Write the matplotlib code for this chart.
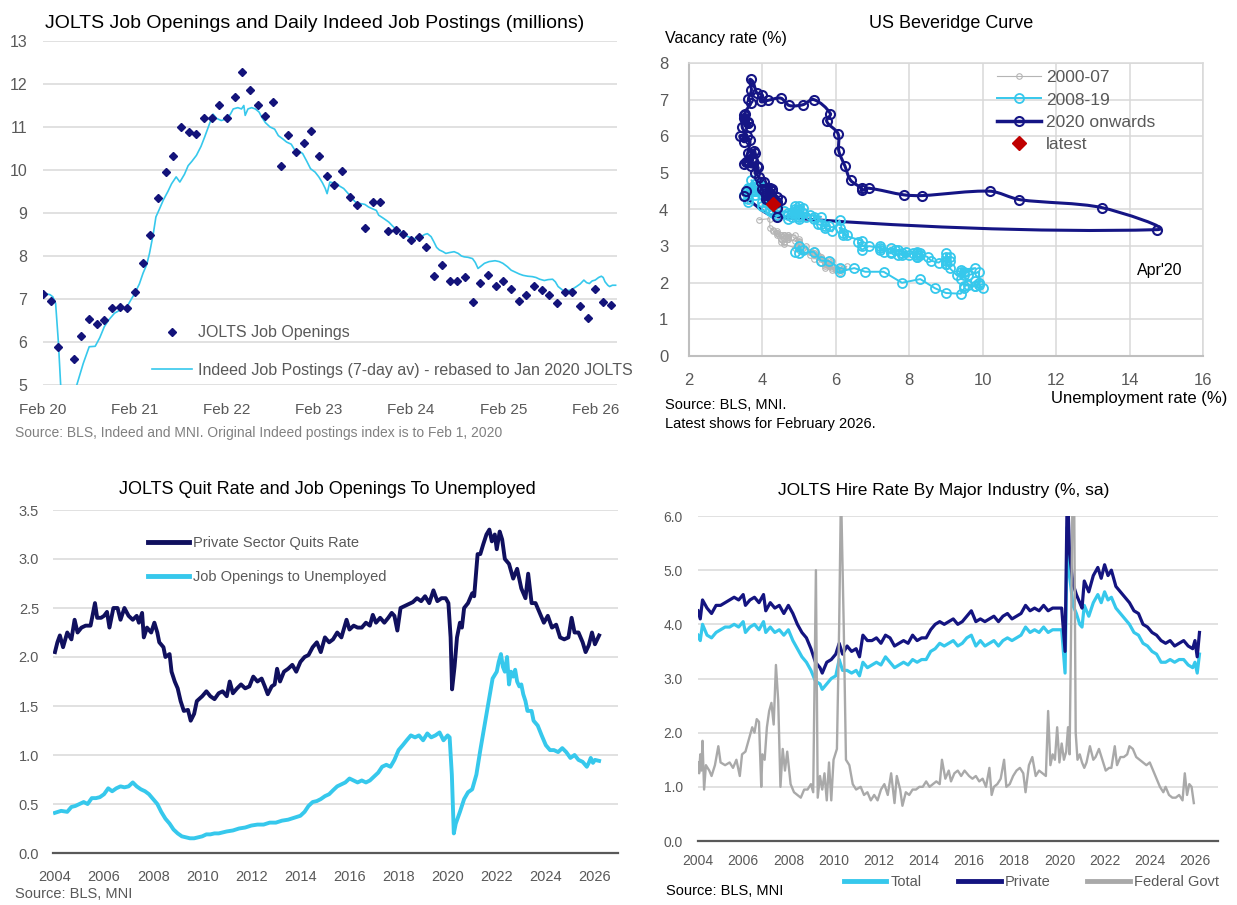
import numpy as np
import matplotlib
matplotlib.use('Agg')
import matplotlib.pyplot as plt
from matplotlib.path import Path
from matplotlib.patches import PathPatch
from matplotlib.lines import Line2D
from matplotlib.ticker import FormatStrFormatter

plt.rcParams['font.family'] = ['Liberation Sans', 'DejaVu Sans']

# ---------------- data ----------------
# JOLTS job openings (millions), monthly from Feb 2020
jolts_openings = [7.12, 6.95, 5.89, 4.6, 5.61, 6.13, 6.54, 6.42, 6.51, 6.80, 6.81, 6.78,
                  7.16, 7.84, 8.49, 9.34, 9.95, 10.32, 11.0, 10.88, 10.83, 11.22, 11.2, 11.52,
                  11.2, 11.69, 12.29, 11.85, 11.52, 11.26, 11.57, 10.09, 10.81, 10.43, 10.62, 10.9,
                  10.32, 9.85, 9.64, 9.97, 9.37, 9.18, 8.65, 9.25, 9.25, 8.58, 8.61, 8.52,
                  8.37, 8.45, 8.21, 7.53, 7.79, 7.43, 7.43, 7.52, 6.93, 7.37, 7.56, 7.3,
                  7.43, 7.23, 6.95, 7.09, 7.31, 7.21, 7.09, 6.91, 7.16, 7.16, 6.84, 6.56,
                  7.23, 6.93, 6.85]

# Indeed postings, rebased (year, millions)
indeed_postings = [
    (2020.083, 7.15), (2020.12, 7.12), (2020.16, 7.1), (2020.19, 7.05), (2020.22, 6.9), (2020.25, 6.0),
    (2020.275, 5.0), (2020.32, 4.55), (2020.37, 4.45), (2020.42, 4.75), (2020.45, 5.0), (2020.52, 5.5),
    (2020.585, 5.89), (2020.65, 5.9), (2020.7, 6.1), (2020.75, 6.36), (2020.8, 6.52), (2020.86, 6.67),
    (2020.95, 6.78), (2020.99, 6.8), (2021.03, 6.95), (2021.08, 7.13), (2021.13, 7.35), (2021.17, 7.6),
    (2021.21, 7.8), (2021.24, 8.06), (2021.28, 8.5), (2021.31, 8.91), (2021.35, 9.1), (2021.39, 9.3),
    (2021.44, 9.5), (2021.48, 9.68), (2021.53, 9.84), (2021.57, 9.72), (2021.62, 9.9), (2021.66, 10.1),
    (2021.7, 10.2), (2021.75, 10.34), (2021.8, 10.55), (2021.84, 10.77), (2021.88, 11.0), (2021.905, 11.15),
    (2021.93, 11.3), (2021.97, 11.2), (2022.02, 11.15), (2022.08, 11.19), (2022.12, 11.3), (2022.15, 11.42),
    (2022.2, 11.45), (2022.24, 11.42), (2022.265, 11.5), (2022.28, 11.27), (2022.31, 11.42), (2022.35, 11.45),
    (2022.39, 11.42), (2022.43, 11.35), (2022.46, 11.23), (2022.5, 11.1), (2022.55, 11.0), (2022.6, 10.95),
    (2022.64, 10.8), (2022.69, 10.72), (2022.73, 10.65), (2022.78, 10.6), (2022.82, 10.46), (2022.86, 10.45),
    (2022.905, 10.38), (2022.95, 10.2), (2022.99, 10.03), (2023.04, 9.95), (2023.08, 9.84), (2023.12, 9.7),
    (2023.15, 9.57), (2023.17, 9.45), (2023.2, 9.72), (2023.24, 9.7), (2023.28, 9.68), (2023.31, 9.62),
    (2023.35, 9.57), (2023.4, 9.45), (2023.44, 9.34), (2023.48, 9.25), (2023.53, 9.22), (2023.58, 9.2),
    (2023.62, 9.14), (2023.66, 9.1), (2023.705, 9.06), (2023.73, 8.95), (2023.78, 8.88), (2023.84, 8.79),
    (2023.88, 8.7), (2023.93, 8.6), (2023.98, 8.55), (2024.02, 8.48), (2024.06, 8.44), (2024.105, 8.41),
    (2024.15, 8.4), (2024.19, 8.45), (2024.23, 8.5), (2024.26, 8.52), (2024.3, 8.45), (2024.33, 8.33),
    (2024.36, 8.2), (2024.39, 8.14), (2024.43, 8.1), (2024.46, 8.06), (2024.5, 8.08), (2024.55, 8.1),
    (2024.595, 8.06), (2024.63, 8.0), (2024.66, 7.98), (2024.7, 7.97), (2024.75, 7.94), (2024.78, 7.85),
    (2024.81, 7.71), (2024.85, 7.78), (2024.88, 7.83), (2024.93, 7.87), (2024.995, 7.89), (2025.04, 7.87),
    (2025.08, 7.83), (2025.13, 7.75), (2025.17, 7.67), (2025.22, 7.62), (2025.26, 7.58), (2025.3, 7.55),
    (2025.35, 7.53), (2025.4, 7.52), (2025.44, 7.5), (2025.48, 7.46), (2025.53, 7.43), (2025.57, 7.45),
    (2025.62, 7.46), (2025.65, 7.4), (2025.68, 7.29), (2025.72, 7.22), (2025.75, 7.17), (2025.79, 7.2),
    (2025.82, 7.21), (2025.85, 7.25), (2025.88, 7.29), (2025.92, 7.35), (2025.96, 7.44), (2025.99, 7.38),
    (2026.02, 7.36), (2026.05, 7.42), (2026.083, 7.44), (2026.12, 7.5), (2026.15, 7.53), (2026.17, 7.5),
    (2026.19, 7.4), (2026.22, 7.32), (2026.24, 7.29), (2026.27, 7.32), (2026.305, 7.32)]
feb_labels = ['Feb 20', 'Feb 21', 'Feb 22', 'Feb 23', 'Feb 24', 'Feb 25', 'Feb 26']

# Beveridge curve: unemployment rate, vacancy rate (monthly)
u_2000_07 = [3.9,
             4.2, 4.2, 4.3, 4.4, 4.3, 4.5, 4.6, 4.9, 5.0, 5.3, 5.5, 5.7,
             5.7, 5.7, 5.7, 5.9, 5.8, 5.8, 5.8, 5.7, 5.7, 5.7, 5.9, 6.0,
             5.8, 5.9, 5.9, 6.0, 6.1, 6.3, 6.2, 6.1, 6.1, 6.0, 5.8, 5.7,
             5.7, 5.6, 5.8, 5.6, 5.6, 5.6, 5.5, 5.4, 5.4, 5.5, 5.4, 5.4,
             5.3, 5.4, 5.2, 5.2, 5.1, 5.0, 5.0, 4.9, 5.0, 5.0, 5.0, 4.9,
             4.7, 4.8, 4.7, 4.7, 4.6, 4.6, 4.7, 4.7, 4.5, 4.4, 4.5, 4.4,
             4.6, 4.5, 4.4, 4.5, 4.4, 4.6, 4.7, 4.6, 4.7, 4.7, 4.7, 5.0]
v_2000_07 = [3.72,
             3.75, 3.5, 3.45, 3.3, 3.4, 3.1, 3.05, 2.95, 2.9, 2.75, 2.75, 2.6,
             2.6, 2.6, 2.55, 2.6, 2.45, 2.5, 2.5, 2.45, 2.55, 2.4, 2.45, 2.35,
             2.45, 2.4, 2.35, 2.35, 2.3, 2.45, 2.4, 2.35, 2.4, 2.4, 2.45, 2.5,
             2.6, 2.55, 2.6, 2.65, 2.7, 2.7, 2.7, 2.65, 2.75, 2.7, 2.8, 2.8,
             2.85, 2.9, 2.9, 3.0, 2.95, 3.0, 3.05, 3.15, 3.2, 3.15, 3.1, 3.3,
             3.3, 3.25, 3.25, 3.3, 3.3, 3.3, 3.25, 3.2, 3.2, 3.35, 3.3, 3.35,
             3.3, 3.2, 3.4, 3.3, 3.35, 3.2, 3.25, 3.1, 3.25, 3.2, 3.2, 3.1]

u_2008_19 = [5.0, 4.9, 5.1, 5.0, 5.4, 5.6, 5.8, 6.1, 6.1, 6.5, 6.8, 7.3,
             7.8, 8.3, 8.7, 9.0, 9.4, 9.5, 9.5, 9.6, 9.8, 10.0, 9.9, 9.9,
             9.8, 9.8, 9.9, 9.9, 9.6, 9.4, 9.4, 9.5, 9.5, 9.4, 9.8, 9.3,
             9.1, 9.0, 9.0, 9.1, 9.0, 9.1, 9.0, 9.0, 9.0, 8.8, 8.6, 8.5,
             8.3, 8.3, 8.2, 8.2, 8.2, 8.2, 8.2, 8.1, 7.8, 7.8, 7.7, 7.9,
             8.0, 7.7, 7.5, 7.6, 7.5, 7.5, 7.3, 7.2, 7.2, 7.2, 6.9, 6.7,
             6.6, 6.7, 6.7, 6.2, 6.3, 6.1, 6.2, 6.1, 5.9, 5.7, 5.8, 5.6,
             5.7, 5.5, 5.4, 5.4, 5.6, 5.3, 5.2, 5.1, 5.0, 5.0, 5.1, 5.0,
             4.8, 4.9, 5.0, 5.1, 4.8, 4.9, 4.8, 4.9, 5.0, 4.9, 4.7, 4.7,
             4.7, 4.6, 4.4, 4.4, 4.4, 4.3, 4.3, 4.4, 4.3, 4.2, 4.2, 4.1,
             4.0, 4.1, 4.0, 4.0, 3.8, 4.0, 3.8, 3.8, 3.7, 3.8, 3.8, 3.9,
             4.0, 3.8, 3.8, 3.7, 3.6, 3.6, 3.7, 3.6, 3.5, 3.6, 3.6, 3.6]
v_2008_19 = [3.0, 2.85, 2.9, 2.8, 2.85, 2.6, 2.6, 2.4, 2.3, 2.4, 2.3, 2.3,
             2.0, 2.1, 1.85, 1.72, 1.7, 1.85, 1.9, 1.95, 1.9, 1.85, 1.95, 2.0,
             2.05, 1.9, 2.0, 2.3, 2.2, 2.1, 2.3, 2.2, 2.3, 2.35, 2.4, 2.2,
             2.4, 2.6, 2.5, 2.7, 2.5, 2.6, 2.8, 2.5, 2.7, 2.55, 2.6, 2.7,
             2.8, 2.75, 2.85, 2.75, 2.8, 2.7, 2.7, 2.8, 2.75, 2.8, 2.75, 2.85,
             2.75, 2.9, 2.85, 2.9, 2.8, 2.95, 2.85, 3.0, 2.9, 2.95, 3.0, 2.9,
             3.1, 3.0, 3.15, 3.3, 3.3, 3.5, 3.35, 3.7, 3.4, 3.5, 3.55, 3.6,
             3.55, 3.6, 3.8, 3.75, 3.8, 3.85, 3.8, 3.9, 3.85, 3.8, 3.9, 4.0,
             3.9, 4.0, 4.1, 4.05, 3.8, 4.1, 3.9, 3.9, 3.75, 3.95, 3.85, 3.75,
             3.9, 3.95, 3.95, 3.85, 4.0, 3.9, 4.1, 4.0, 4.1, 4.0, 3.95, 4.05,
             4.1, 4.3, 4.2, 4.4, 4.4, 4.5, 4.5, 4.7, 4.8, 4.6, 4.5, 4.7,
             4.6, 4.5, 4.7, 4.6, 4.5, 4.55, 4.5, 4.6, 4.4, 4.3, 4.4, 4.2]

# Jan 2020 - Feb 2026 (unemployment, vacancy)
beveridge_2020 = [
    (3.55, 4.50), (3.50, 4.38), (4.40, 3.80), (14.75, 3.45), (13.25, 4.05), (11.00, 4.27),
    (10.20, 4.50), (8.35, 4.38), (7.85, 4.40), (6.90, 4.58), (6.70, 4.52), (6.70, 4.58),
    (6.40, 4.80), (6.25, 5.18), (6.08, 5.60), (6.06, 6.07), (5.75, 6.41), (5.85, 6.62),
    (5.40, 7.00), (5.10, 6.86), (4.73, 6.84), (4.50, 7.04), (4.15, 6.98), (3.95, 6.95),
    (4.00, 7.12), (3.85, 7.18), (3.68, 7.55), (3.70, 7.25), (3.62, 7.02), (3.68, 6.90),
    (3.52, 6.62), (3.62, 6.35), (3.50, 6.50), (3.65, 6.25), (3.62, 6.40), (3.50, 6.58),
    (3.45, 6.25), (3.58, 6.00), (3.50, 5.85), (3.40, 6.02), (3.65, 5.90), (3.60, 5.55),
    (3.55, 5.30), (3.78, 5.60), (3.80, 5.55), (3.85, 5.20), (3.50, 5.25), (3.72, 5.40),
    (3.70, 5.20), (3.88, 5.15), (3.80, 5.00), (3.90, 4.90), (3.95, 4.75), (4.05, 4.75),
    (4.25, 4.55), (4.20, 4.45), (4.05, 4.50), (4.10, 4.55), (4.20, 4.60), (4.10, 4.40),
    (4.00, 4.55), (4.10, 4.45), (4.15, 4.30), (4.20, 4.40), (4.25, 4.50), (4.10, 4.28),
    (4.25, 4.25), (4.30, 4.30), (4.40, 4.35), (4.40, 4.20), (4.50, 4.25), (4.40, 4.05),
    (4.30, 4.20), (4.28, 4.15)]
latest_point = (4.28, 4.15)

# Quits rate and openings per unemployed (year, value)
quits_rate = [
    (2004.0, 2.05), (2004.1, 2.15), (2004.2, 2.22), (2004.33, 2.1), (2004.5, 2.25), (2004.67, 2.18),
    (2004.8, 2.38), (2004.92, 2.25), (2005.08, 2.3), (2005.25, 2.32), (2005.45, 2.32), (2005.55, 2.45),
    (2005.63, 2.55), (2005.72, 2.4), (2005.88, 2.4), (2006.0, 2.42), (2006.12, 2.46), (2006.22, 2.3),
    (2006.38, 2.5), (2006.55, 2.5), (2006.67, 2.38), (2006.83, 2.5), (2007.0, 2.42), (2007.17, 2.38),
    (2007.33, 2.42), (2007.42, 2.35), (2007.55, 2.45), (2007.62, 2.2), (2007.75, 2.3), (2007.92, 2.25),
    (2008.05, 2.35), (2008.17, 2.25), (2008.25, 2.15), (2008.42, 2.1), (2008.5, 2.0), (2008.67, 2.03),
    (2008.75, 1.85), (2008.88, 1.75), (2009.0, 1.68), (2009.12, 1.55), (2009.25, 1.45), (2009.42, 1.46),
    (2009.53, 1.35), (2009.67, 1.42), (2009.78, 1.55), (2010.0, 1.6), (2010.17, 1.65), (2010.33, 1.6),
    (2010.5, 1.57), (2010.67, 1.63), (2010.83, 1.65), (2011.0, 1.6), (2011.12, 1.75), (2011.25, 1.63),
    (2011.42, 1.68), (2011.58, 1.72), (2011.75, 1.68), (2011.92, 1.7), (2012.08, 1.8), (2012.25, 1.75),
    (2012.42, 1.78), (2012.55, 1.7), (2012.67, 1.62), (2012.83, 1.7), (2012.95, 1.72), (2013.05, 1.88),
    (2013.17, 1.75), (2013.33, 1.85), (2013.5, 1.88), (2013.67, 1.92), (2013.83, 1.85), (2014.0, 1.95),
    (2014.17, 2.0), (2014.33, 2.02), (2014.5, 2.1), (2014.67, 2.15), (2014.83, 2.05), (2015.0, 2.2),
    (2015.17, 2.15), (2015.33, 2.18), (2015.5, 2.25), (2015.67, 2.2), (2015.88, 2.38), (2016.0, 2.28),
    (2016.17, 2.32), (2016.33, 2.3), (2016.5, 2.3), (2016.67, 2.35), (2016.83, 2.32), (2016.95, 2.43),
    (2017.08, 2.35), (2017.25, 2.4), (2017.42, 2.35), (2017.58, 2.4), (2017.72, 2.45), (2017.83, 2.42),
    (2017.95, 2.27), (2018.08, 2.5), (2018.25, 2.52), (2018.42, 2.54), (2018.58, 2.56), (2018.75, 2.6),
    (2018.92, 2.57), (2019.08, 2.62), (2019.25, 2.55), (2019.42, 2.68), (2019.58, 2.57), (2019.75, 2.6),
    (2019.92, 2.6), (2020.03, 2.55), (2020.12, 2.2), (2020.18, 1.67), (2020.28, 1.9), (2020.38, 2.2),
    (2020.5, 2.35), (2020.58, 2.3), (2020.67, 2.5), (2020.83, 2.55), (2021.0, 2.65), (2021.08, 2.62),
    (2021.22, 3.05), (2021.33, 3.05), (2021.45, 3.15), (2021.58, 3.25), (2021.7, 3.3), (2021.8, 3.18),
    (2021.92, 3.25), (2022.0, 3.1), (2022.12, 3.28), (2022.22, 3.2), (2022.33, 3.0), (2022.5, 2.95),
    (2022.67, 2.8), (2022.83, 2.9), (2023.0, 2.7), (2023.17, 2.6), (2023.28, 2.85), (2023.42, 2.55),
    (2023.58, 2.55), (2023.75, 2.45), (2023.92, 2.35), (2024.08, 2.42), (2024.25, 2.3), (2024.42, 2.33),
    (2024.58, 2.2), (2024.75, 2.18), (2024.92, 2.2), (2025.05, 2.4), (2025.17, 2.25), (2025.33, 2.25),
    (2025.5, 2.15), (2025.62, 2.05), (2025.75, 2.12), (2025.88, 2.25), (2026.0, 2.13), (2026.17, 2.22)]

openings_per_unemployed = [
    (2004.0, 0.41), (2004.25, 0.43), (2004.5, 0.42), (2004.67, 0.47), (2004.83, 0.48), (2005.0, 0.5),
    (2005.17, 0.52), (2005.33, 0.5), (2005.5, 0.56), (2005.67, 0.56), (2005.83, 0.57), (2006.0, 0.6),
    (2006.17, 0.66), (2006.33, 0.63), (2006.5, 0.66), (2006.67, 0.68), (2006.83, 0.67), (2007.0, 0.68),
    (2007.17, 0.72), (2007.33, 0.68), (2007.5, 0.65), (2007.67, 0.63), (2007.83, 0.6), (2008.0, 0.55),
    (2008.17, 0.5), (2008.33, 0.42), (2008.5, 0.35), (2008.67, 0.3), (2008.83, 0.24), (2009.0, 0.2),
    (2009.17, 0.17), (2009.33, 0.16), (2009.5, 0.15), (2009.67, 0.15), (2009.83, 0.16), (2010.0, 0.17),
    (2010.17, 0.19), (2010.33, 0.19), (2010.5, 0.2), (2010.67, 0.2), (2010.83, 0.21), (2011.0, 0.22),
    (2011.25, 0.23), (2011.5, 0.25), (2011.75, 0.26), (2012.0, 0.28), (2012.25, 0.29), (2012.5, 0.29),
    (2012.75, 0.31), (2013.0, 0.31), (2013.25, 0.33), (2013.5, 0.34), (2013.75, 0.36), (2014.0, 0.38),
    (2014.17, 0.42), (2014.33, 0.48), (2014.5, 0.52), (2014.67, 0.53), (2014.83, 0.55), (2015.0, 0.58),
    (2015.17, 0.6), (2015.33, 0.64), (2015.5, 0.68), (2015.67, 0.7), (2015.83, 0.72), (2016.0, 0.76),
    (2016.17, 0.74), (2016.33, 0.72), (2016.5, 0.74), (2016.67, 0.72), (2016.83, 0.74), (2017.0, 0.78),
    (2017.17, 0.82), (2017.33, 0.88), (2017.5, 0.9), (2017.67, 0.88), (2017.83, 0.95), (2018.0, 1.05),
    (2018.17, 1.1), (2018.33, 1.15), (2018.5, 1.2), (2018.67, 1.18), (2018.83, 1.2), (2019.0, 1.15),
    (2019.17, 1.22), (2019.33, 1.18), (2019.5, 1.2), (2019.67, 1.23), (2019.83, 1.15), (2020.0, 1.2),
    (2020.08, 1.18), (2020.17, 0.8), (2020.25, 0.2), (2020.33, 0.3), (2020.5, 0.42), (2020.67, 0.55),
    (2020.83, 0.62), (2021.0, 0.65), (2021.17, 0.8), (2021.33, 1.05), (2021.5, 1.3), (2021.67, 1.55),
    (2021.83, 1.78), (2022.0, 1.85), (2022.08, 1.95), (2022.17, 2.03), (2022.25, 1.9), (2022.33, 1.85),
    (2022.42, 2.0), (2022.5, 1.72), (2022.58, 1.85), (2022.67, 1.8), (2022.75, 1.87), (2022.83, 1.75),
    (2022.92, 1.7), (2023.0, 1.72), (2023.08, 1.62), (2023.17, 1.55), (2023.25, 1.45), (2023.42, 1.45),
    (2023.5, 1.35), (2023.67, 1.3), (2023.83, 1.2), (2024.0, 1.1), (2024.17, 1.05), (2024.33, 1.05),
    (2024.5, 1.03), (2024.67, 1.07), (2024.83, 1.03), (2025.0, 0.97), (2025.17, 1.0), (2025.33, 0.95),
    (2025.5, 0.93), (2025.67, 0.88), (2025.75, 0.92), (2025.83, 0.97), (2025.92, 0.92), (2026.0, 0.95),
    (2026.17, 0.94)]

# Hire rates (year, total, private)
hire_rates = [
    (2004.0, 3.8, 4.25), (2004.1, 3.7, 4.1), (2004.2, 4.0, 4.45), (2004.4, 3.8, 4.3), (2004.6, 3.75, 4.2),
    (2004.8, 3.85, 4.35), (2005.0, 3.9, 4.35), (2005.2, 3.95, 4.4), (2005.4, 3.95, 4.45), (2005.6, 4.0, 4.5),
    (2005.8, 3.95, 4.45), (2006.0, 4.05, 4.55), (2006.1, 3.85, 4.35), (2006.3, 3.95, 4.45), (2006.5, 4.0, 4.5),
    (2006.7, 3.9, 4.4), (2006.9, 4.05, 4.55), (2007.0, 3.85, 4.25), (2007.2, 3.95, 4.4), (2007.4, 3.85, 4.3),
    (2007.6, 3.9, 4.35), (2007.8, 3.8, 4.2), (2008.0, 3.9, 4.35), (2008.2, 3.7, 4.2), (2008.4, 3.55, 4.0),
    (2008.6, 3.4, 3.85), (2008.8, 3.3, 3.75), (2009.0, 3.15, 3.55), (2009.2, 2.95, 3.3), (2009.4, 2.9, 3.2),
    (2009.5, 2.8, 3.1), (2009.7, 2.9, 3.3), (2009.9, 3.0, 3.35), (2010.1, 3.05, 3.45), (2010.25, 3.35, 3.65),
    (2010.4, 3.15, 3.45), (2010.6, 3.15, 3.6), (2010.8, 3.1, 3.5), (2011.0, 3.15, 3.55), (2011.15, 3.05, 3.4),
    (2011.3, 3.3, 3.8), (2011.5, 3.2, 3.7), (2011.7, 3.25, 3.7), (2011.9, 3.3, 3.75), (2012.1, 3.25, 3.65),
    (2012.3, 3.4, 3.8), (2012.5, 3.3, 3.75), (2012.7, 3.2, 3.6), (2012.9, 3.25, 3.65), (2013.1, 3.3, 3.7),
    (2013.3, 3.25, 3.65), (2013.5, 3.35, 3.8), (2013.7, 3.3, 3.7), (2013.9, 3.35, 3.75), (2014.1, 3.35, 3.75),
    (2014.3, 3.5, 3.9), (2014.5, 3.55, 4.0), (2014.7, 3.65, 4.05), (2014.9, 3.6, 4.0), (2015.1, 3.65, 4.05),
    (2015.3, 3.7, 4.1), (2015.5, 3.6, 4.0), (2015.7, 3.65, 4.05), (2015.9, 3.75, 4.15), (2016.1, 3.8, 4.25),
    (2016.3, 3.6, 4.05), (2016.5, 3.7, 4.1), (2016.7, 3.6, 4.05), (2016.9, 3.65, 4.1), (2017.1, 3.7, 4.15),
    (2017.3, 3.6, 4.05), (2017.5, 3.7, 4.15), (2017.7, 3.75, 4.2), (2017.9, 3.7, 4.1), (2018.1, 3.75, 4.15),
    (2018.3, 3.8, 4.2), (2018.5, 3.95, 4.35), (2018.7, 3.85, 4.25), (2018.9, 3.9, 4.3), (2019.1, 3.85, 4.25),
    (2019.3, 3.95, 4.35), (2019.5, 3.85, 4.25), (2019.7, 3.9, 4.3), (2019.9, 3.9, 4.3), (2020.1, 3.9, 4.3),
    (2020.25, 3.1, 3.5), (2020.35, 5.8, 6.6), (2020.45, 4.9, 5.3), (2020.6, 4.35, 4.75), (2020.75, 4.2, 4.55),
    (2020.9, 4.0, 4.4), (2021.0, 3.95, 4.3), (2021.1, 4.35, 4.8), (2021.3, 4.15, 4.6), (2021.5, 4.4, 4.9),
    (2021.7, 4.55, 5.05), (2021.85, 4.4, 4.85), (2022.0, 4.6, 5.1), (2022.15, 4.45, 4.9), (2022.3, 4.5, 5.0),
    (2022.5, 4.3, 4.7), (2022.7, 4.2, 4.6), (2022.9, 4.1, 4.5), (2023.1, 4.0, 4.4), (2023.3, 3.85, 4.25),
    (2023.5, 3.8, 4.2), (2023.7, 3.65, 4.0), (2023.9, 3.6, 3.95), (2024.1, 3.5, 3.85), (2024.3, 3.45, 3.8),
    (2024.5, 3.3, 3.7), (2024.7, 3.3, 3.65), (2024.9, 3.35, 3.7), (2025.1, 3.3, 3.6), (2025.3, 3.35, 3.65),
    (2025.5, 3.35, 3.7), (2025.7, 3.25, 3.6), (2025.9, 3.2, 3.55), (2026.0, 3.3, 3.7), (2026.1, 3.1, 3.4),
    (2026.2, 3.45, 3.85)]

hire_federal = [
    (2004.0, 1.45), (2004.05, 1.25), (2004.1, 1.6), (2004.15, 1.3), (2004.2, 1.85), (2004.27, 0.95),
    (2004.35, 1.4), (2004.5, 1.3), (2004.6, 1.2), (2004.75, 1.4), (2004.9, 1.75), (2005.0, 1.45),
    (2005.2, 1.4), (2005.4, 1.45), (2005.55, 1.35), (2005.7, 1.5), (2005.85, 1.2), (2005.95, 1.6),
    (2006.1, 1.65), (2006.3, 1.95), (2006.4, 2.1), (2006.5, 2.0), (2006.6, 2.25), (2006.7, 2.2),
    (2006.8, 1.0), (2006.85, 1.6), (2006.95, 1.5), (2007.05, 2.1), (2007.15, 2.4), (2007.25, 2.55),
    (2007.35, 2.15), (2007.45, 3.25), (2007.55, 2.6), (2007.65, 1.0), (2007.75, 1.7), (2007.85, 1.3),
    (2007.95, 1.65), (2008.1, 1.05), (2008.25, 0.9), (2008.4, 0.85), (2008.55, 0.8), (2008.7, 0.95),
    (2008.85, 0.95), (2009.0, 1.05), (2009.1, 0.9), (2009.22, 5.0), (2009.3, 0.8), (2009.4, 1.2),
    (2009.5, 0.95), (2009.6, 1.25), (2009.7, 0.75), (2009.8, 1.45), (2009.9, 0.75), (2010.0, 1.5),
    (2010.15, 1.7), (2010.25, 4.0), (2010.33, 6.5), (2010.45, 4.0), (2010.55, 1.5), (2010.7, 1.4),
    (2010.85, 1.05), (2011.0, 0.95), (2011.2, 1.0), (2011.35, 0.85), (2011.5, 0.9), (2011.65, 0.75),
    (2011.8, 0.85), (2011.95, 0.75), (2012.1, 0.95), (2012.25, 1.05), (2012.4, 0.85), (2012.55, 1.25),
    (2012.7, 0.7), (2012.8, 1.2), (2012.95, 0.95), (2013.05, 0.65), (2013.2, 0.9), (2013.35, 0.85),
    (2013.5, 0.95), (2013.65, 0.95), (2013.8, 1.0), (2013.95, 1.0), (2014.1, 1.1), (2014.25, 1.0),
    (2014.4, 1.05), (2014.55, 1.1), (2014.7, 1.05), (2014.8, 1.5), (2014.95, 1.15), (2015.1, 1.3),
    (2015.2, 1.1), (2015.35, 1.25), (2015.5, 1.3), (2015.65, 1.2), (2015.8, 1.3), (2016.0, 1.2),
    (2016.15, 1.15), (2016.3, 1.2), (2016.45, 1.1), (2016.6, 1.15), (2016.75, 1.0), (2016.9, 1.35),
    (2017.0, 0.85), (2017.1, 1.0), (2017.25, 1.05), (2017.4, 1.15), (2017.55, 1.5), (2017.65, 1.0),
    (2017.8, 1.05), (2017.95, 1.2), (2018.1, 1.3), (2018.25, 1.35), (2018.4, 1.25), (2018.5, 0.9),
    (2018.65, 1.4), (2018.8, 1.55), (2018.95, 1.2), (2019.1, 1.3), (2019.25, 1.25), (2019.4, 1.2),
    (2019.5, 2.4), (2019.6, 1.4), (2019.7, 1.6), (2019.8, 1.5), (2019.9, 2.1), (2020.0, 1.45),
    (2020.1, 1.8), (2020.2, 1.5), (2020.3, 1.65), (2020.38, 2.1), (2020.45, 1.6), (2020.52, 4.0),
    (2020.58, 6.5), (2020.65, 6.5), (2020.72, 2.0), (2020.8, 1.5), (2020.9, 1.6), (2021.0, 1.45),
    (2021.1, 1.35), (2021.2, 1.45), (2021.35, 1.75), (2021.5, 1.5), (2021.6, 1.55), (2021.75, 1.7),
    (2021.9, 1.5), (2022.05, 1.3), (2022.2, 1.35), (2022.3, 1.35), (2022.45, 1.75), (2022.55, 1.4),
    (2022.7, 1.55), (2022.85, 1.55), (2023.0, 1.6), (2023.1, 1.75), (2023.25, 1.7), (2023.4, 1.55),
    (2023.55, 1.5), (2023.7, 1.45), (2023.85, 1.4), (2024.0, 1.45), (2024.15, 1.3), (2024.3, 1.15),
    (2024.45, 1.0), (2024.6, 0.9), (2024.7, 1.0), (2024.85, 0.85), (2025.0, 0.8), (2025.15, 0.8),
    (2025.3, 0.85), (2025.45, 0.75), (2025.55, 1.25), (2025.65, 0.85), (2025.75, 1.05), (2025.85, 1.0),
    (2025.95, 0.7)]

# ---------------- style ----------------
TICK = '#595959'
GRID = '#d9d9d9'
NAVY = '#13137a'
NAVY_DARK = '#10105e'
CYAN = '#36c8ec'
GREY = '#a9a9a9'
RED = '#c00000'

W, H = 1237, 905
fig = plt.figure(figsize=(W / 100, H / 100), dpi=100)


def box(l, t, r, b):
    return [l / W, 1 - b / H, (r - l) / W, (b - t) / H]


def ftext(x, y, s, **kw):
    fig.text(x / W, 1 - y / H, s, **kw)


def clean(ax, size, pad_x, pad_y):
    for s in ax.spines.values():
        s.set_visible(False)
    ax.tick_params(length=0, labelsize=size, labelcolor=TICK)
    ax.tick_params(axis='x', pad=pad_x)
    ax.tick_params(axis='y', pad=pad_y)
    ax.set_axisbelow(True)
    ax.yaxis.grid(True, color=GRID, lw=1.1)


def smooth_path(pts, k=0.3):
    # Excel-like smoothed line through the points (cubic Bezier segments)
    p = np.asarray(pts, float)
    n = len(p)
    verts, codes = [p[0]], [Path.MOVETO]
    for i in range(n - 1):
        a, b = p[i], p[i + 1]
        ta = p[min(i + 1, n - 1)] - p[max(i - 1, 0)]
        tb = p[min(i + 2, n - 1)] - p[i]
        seg = np.hypot(*(b - a))
        na, nb = max(np.hypot(*ta), 1e-9), max(np.hypot(*tb), 1e-9)
        verts += [a + ta / na * seg * k, b - tb / nb * seg * k, b]
        codes += [Path.CURVE4] * 3
    return Path(verts, codes)


# ---------------- panel 1 ----------------
ax1 = fig.add_axes(box(43, 41, 617, 385))
clean(ax1, 11.5, 13, 11.5)
ax1.tick_params(axis='x', labelsize=11)
jt = 2020 + 1 / 12 + np.arange(len(jolts_openings)) / 12
it, iv = zip(*indeed_postings)
l_ind, = ax1.plot(it, iv, color=CYAN, lw=1.2,
                  label='Indeed Job Postings (7-day av) - rebased to Jan 2020 JOLTS')
l_jo, = ax1.plot(jt, jolts_openings, ls='none', marker='D', ms=4.2, color=NAVY,
                 label='JOLTS Job Openings')
ax1.set_xlim(2020.083, 2026.32)
ax1.set_ylim(5, 13)
ax1.set_yticks(range(5, 14))
ax1.set_xticks(2020 + 1 / 12 + np.arange(len(feb_labels)))
ax1.set_xticklabels(feb_labels)
ax1.legend(handles=[l_jo, l_ind], loc='upper left', bbox_to_anchor=(0.19, 0.173),
           frameon=False, fontsize=11.5, labelcolor=TICK, handlelength=2.5,
           handletextpad=0.4, labelspacing=1.4, borderpad=0, borderaxespad=0)
ftext(315, 23, 'JOLTS Job Openings and Daily Indeed Job Postings (millions)',
      ha='center', va='center', fontsize=14)
ftext(15, 433, 'Source: BLS, Indeed and MNI. Original Indeed postings index is to Feb 1, 2020',
      ha='left', va='center', fontsize=10, color='#808080')

# ---------------- panel 2 ----------------
ax2 = fig.add_axes(box(689, 63, 1203, 356))
ax2.tick_params(length=0, labelsize=12, labelcolor=TICK)
ax2.tick_params(axis='x', pad=12)
ax2.tick_params(axis='y', pad=15)
ax2.set_axisbelow(True)
ax2.grid(True, color=GRID, lw=1.1)
for side in ['top', 'right']:
    ax2.spines[side].set_color(GRID)
    ax2.spines[side].set_linewidth(1.1)
for side in ['left', 'bottom']:
    ax2.spines[side].set_color('#bfbfbf')
    ax2.spines[side].set_linewidth(1.5)
l_g, = ax2.plot(u_2000_07, v_2000_07, color='#b5b5b5', lw=0.8, marker='o', ms=4,
                mfc='none', mew=0.8, label='2000-07')
l_c, = ax2.plot(u_2008_19, v_2008_19, color=CYAN, lw=1.4, marker='o', ms=6.5,
                mfc='none', mew=1.3, label='2008-19')
ax2.add_patch(PathPatch(smooth_path(beveridge_2020), fill=False, ec='#151585', lw=2.2))
bu, bv = zip(*beveridge_2020)
ax2.plot(bu, bv, ls='none', marker='o', ms=6.5, mfc='none', mec='#151585', mew=1.5)
l_n = Line2D([], [], color='#151585', lw=2.5, marker='o', ms=6.5, mfc='none', mew=1.5)
l_r, = ax2.plot([latest_point[0]], [latest_point[1]], ls='none', marker='D', ms=7,
                color=RED, label='latest')
ax2.set_xlim(2, 16)
ax2.set_ylim(0, 8)
ax2.set_xticks(range(2, 17, 2))
ax2.set_yticks(range(0, 9))
ax2.legend(handles=[l_g, l_c, l_n, l_r], labels=['2000-07', '2008-19', '2020 onwards', 'latest'],
           loc='upper left', bbox_to_anchor=(0.6, 0.975), frameon=False, fontsize=12.5,
           labelcolor=TICK, handlelength=2.5, handletextpad=0.3, labelspacing=0.4,
           borderpad=0, borderaxespad=0)
ax2.text(14.83, 2.33, "Apr'20", ha='center', va='center', fontsize=11.5)
ftext(951, 24, 'US Beveridge Curve', ha='center', va='center', fontsize=13)
ftext(665, 38, 'Vacancy rate (%)', ha='left', va='center', fontsize=11.5)
ftext(1227, 399, 'Unemployment rate (%)', ha='right', va='center', fontsize=12)
ftext(665, 405, 'Source: BLS, MNI.', ha='left', va='center', fontsize=10.5)
ftext(665, 424, 'Latest shows for February 2026.', ha='left', va='center', fontsize=10.5)

# ---------------- panel 3 ----------------
ax3 = fig.add_axes(box(53, 510, 618, 853))
clean(ax3, 10.5, 12, 10)
ax3.spines['bottom'].set_visible(True)
ax3.spines['bottom'].set_color(TICK)
ax3.spines['bottom'].set_linewidth(1.6)
qt, qv = zip(*quits_rate)
ot, ov = zip(*openings_per_unemployed)
ax3.plot(qt, qv, color=NAVY_DARK, lw=2.8, label='Private Sector Quits Rate')
ax3.plot(ot, ov, color=CYAN, lw=2.8, label='Job Openings to Unemployed')
ax3.set_xlim(2003.92, 2026.94)
ax3.set_ylim(0, 3.5)
ax3.set_yticks(np.arange(0, 3.51, 0.5))
ax3.yaxis.set_major_formatter(FormatStrFormatter('%.1f'))
ax3.set_xticks(range(2004, 2027, 2))
leg3 = ax3.legend(loc='upper left', bbox_to_anchor=(0.168, 0.925), frameon=False,
                  fontsize=10.5, labelcolor=TICK, handlelength=2.8, handletextpad=0.3,
                  labelspacing=1.4, borderpad=0, borderaxespad=0)
for h in leg3.get_lines():
    h.set_linewidth(3.5)
ftext(327, 490, 'JOLTS Quit Rate and Job Openings To Unemployed',
      ha='center', va='center', fontsize=13)
ftext(15, 894, 'Source: BLS, MNI', ha='left', va='center', fontsize=10.5, color=TICK)

# ---------------- panel 4 ----------------
ax4 = fig.add_axes(box(698, 516, 1218, 841))
clean(ax4, 10, 9, 11)
ax4.spines['bottom'].set_visible(True)
ax4.spines['bottom'].set_color(TICK)
ax4.spines['bottom'].set_linewidth(1.6)
ht, htot, hpri = zip(*hire_rates)
ft, fv = zip(*hire_federal)
ax4.plot(ht, htot, color=CYAN, lw=2.3, label='Total')
ax4.plot(ht, hpri, color='#141480', lw=2.3, label='Private')
ax4.plot(ft, fv, color=GREY, lw=1.7, label='Federal Govt')
ax4.set_xlim(2004.0, 2027.02)
ax4.set_ylim(0, 6)
ax4.set_yticks(range(0, 7))
ax4.yaxis.set_major_formatter(FormatStrFormatter('%.1f'))
ax4.set_xticks(range(2004, 2027, 2))
leg4 = ax4.legend(loc='center left', bbox_to_anchor=(0.281, -0.126), ncol=3, frameon=False,
                  fontsize=10.5, labelcolor=TICK, handlelength=2.9, handletextpad=0.3,
                  columnspacing=2.5, borderpad=0, borderaxespad=0)
for h in leg4.get_lines():
    h.set_linewidth(3.5)
ftext(944, 490, 'JOLTS Hire Rate By Major Industry (%, sa)', ha='center', va='center', fontsize=12.5)
ftext(666, 891, 'Source: BLS, MNI', ha='left', va='center', fontsize=10.5)

fig.savefig('out.png', dpi=100)
